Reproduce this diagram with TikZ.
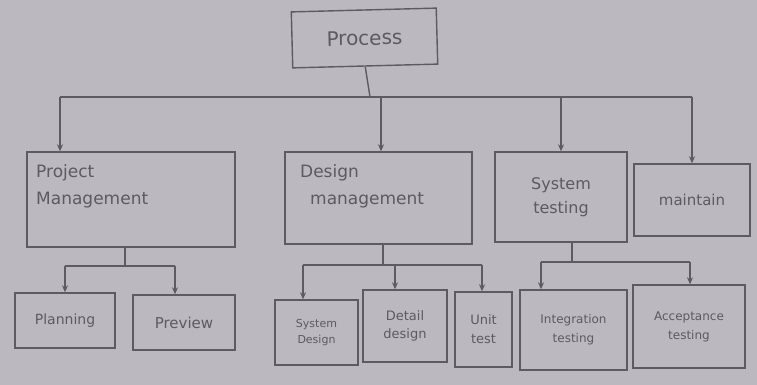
\documentclass[tikz,border=0pt]{standalone}
\usepackage{fontspec}
\setmainfont{DejaVu Sans}
\usetikzlibrary{arrows.meta}
\definecolor{paper}{HTML}{BBB8BF}
\definecolor{pencil}{HTML}{5C5A62}
\tikzset{
  box/.style={draw=pencil, line width=1.4pt, rectangle, inner sep=2pt,
    text=pencil, align=center, font=\fontsize{15}{19}\selectfont},
  label/.style={text=pencil, inner sep=0pt, align=left},
  wire/.style={draw=pencil, line width=1.4pt},
  arr/.style={wire, -{Stealth[length=7pt,width=6pt]}}
}
\begin{document}
\begin{tikzpicture}[x=1pt,y=-1pt]
  \fill[paper] (0,0) rectangle (757,385);
  \useasboundingbox (0,0) rectangle (757,385);

  % top node
  \node[box, minimum width=145, minimum height=56, rotate=1.5,
        font=\fontsize{20}{22}\selectfont] (proc) at (364.5,38) {Process};

  % second level
  \node[box, minimum width=208, minimum height=95] (pm) at (131,199.5) {};
  \node[label, anchor=north west, font=\fontsize{17}{27}\selectfont] at (36,164) {Project\\Management};
  \node[box, minimum width=187, minimum height=92] (dm) at (378.5,198) {};
  \node[label, anchor=north west, font=\fontsize{17}{27}\selectfont] at (300,164) {Design\\\hspace*{10pt}management};
  \node[box, minimum width=132, minimum height=90, font=\fontsize{16}{24}\selectfont] (st) at (561,197) {System\\testing};
  \node[box, minimum width=116, minimum height=72, font=\fontsize{15}{18}\selectfont] (mt) at (692,200) {maintain};

  % third level
  \node[box, minimum width=100, minimum height=55, font=\fontsize{14}{16}\selectfont] (pl) at (65,320.5) {Planning};
  \node[box, minimum width=102, minimum height=55, font=\fontsize{15}{17}\selectfont] (pv) at (184,322.5) {Preview};
  \node[box, minimum width=83, minimum height=65, font=\fontsize{11}{16}\selectfont] (sd) at (316.5,332.5) {System\\Design};
  \node[box, minimum width=84, minimum height=72, font=\fontsize{13}{18}\selectfont] (dd) at (405,326) {Detail\\design};
  \node[box, minimum width=57, minimum height=75, font=\fontsize{13}{19}\selectfont] (ut) at (483.5,329.5) {Unit\\test};
  \node[box, minimum width=107, minimum height=80, font=\fontsize{12}{19}\selectfont] (it) at (573.5,330) {Integration\\testing};
  \node[box, minimum width=112, minimum height=83, font=\fontsize{12}{19}\selectfont] (at) at (689,326.5) {Acceptance\\testing};

  % junctions of the main branch
  \coordinate (j0) at (370,97);
  \coordinate (bL) at (60,97);
  \coordinate (bD) at (381,97);
  \coordinate (bR) at (692,97);
  \draw[wire] (proc.south) -- (j0);
  \draw[wire] (bL) -- (bR);
  \draw[arr] (bL) -- (bL |- pm.north);
  \draw[arr] (bD) -- (bD |- dm.north);
  \draw[arr] (st.north |- j0) -- (st.north);
  \draw[arr] (bR) -- (mt.north);

  % project management branch
  \coordinate (pj) at (125,266);
  \coordinate (pa) at (65,266);
  \coordinate (pb) at (175,266);
  \draw[wire] (pm.south -| pj) -- (pj);
  \draw[wire] (pa) -- (pb);
  \draw[arr] (pa) -- (pa |- pl.north);
  \draw[arr] (pb) -- (pb |- pv.north);

  % design management branch
  \coordinate (dj) at (383,265);
  \coordinate (da) at (303,265);
  \coordinate (dc) at (395,265);
  \coordinate (db) at (482,265);
  \draw[wire] (dm.south -| dj) -- (dj);
  \draw[wire] (da) -- (db);
  \draw[arr] (da) -- (da |- sd.north);
  \draw[arr] (dc) -- (dc |- dd.north);
  \draw[arr] (db) -- (db |- ut.north);

  % system testing branch
  \coordinate (sj) at (572,262);
  \coordinate (sa) at (541,262);
  \coordinate (sb) at (690,262);
  \draw[wire] (st.south -| sj) -- (sj);
  \draw[wire] (sa) -- (sb);
  \draw[arr] (sa) -- (sa |- it.north);
  \draw[arr] (sb) -- (sb |- at.north);
\end{tikzpicture}
\end{document}
